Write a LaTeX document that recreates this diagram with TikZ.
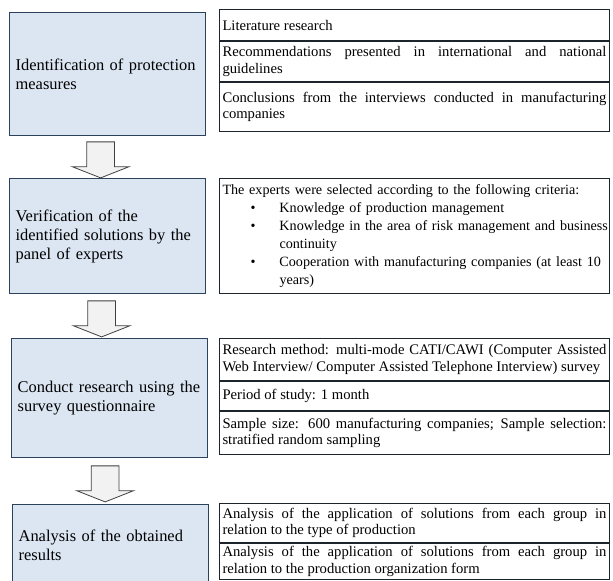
\documentclass[tikz,border=0pt]{standalone}
\usepackage{fontspec}
\setmainfont{Liberation Serif}
\usepackage{tikz}
\usetikzlibrary{shapes.arrows, positioning, calc}
\definecolor{cfill}{RGB}{220, 230, 242}
\definecolor{cframe}{RGB}{44, 66, 90}
\definecolor{crule}{RGB}{30, 36, 44}
\definecolor{carrowfill}{RGB}{242, 242, 242}
\definecolor{carrowline}{RGB}{64, 64, 64}

\newcommand{\critem}[1]{\hspace*{28bp}\makebox[29bp][l]{\textbullet}\mbox{#1}}
\newcommand{\crcont}[1]{\hspace*{57bp}\mbox{#1}}

\begin{document}
\begin{tikzpicture}[
  x=1bp, y=-1bp,
  stepbox/.style={rectangle, draw=cframe, line width=1.3pt, fill=cfill, minimum width=196bp, text width=184bp, inner xsep=6bp, align=left, anchor=north west, font=\fontsize{16.5}{19}\selectfont},
  sect/.style={rectangle, draw=crule, line width=1pt, fill=white, text width=384bp, inner xsep=3bp, inner ysep=2bp, align=justify, font=\fontsize{14.7}{16.5}\selectfont},
  downarrow/.style={single arrow, draw=carrowline, fill=carrowfill, line width=0.8pt, rotate=-90, minimum height=36bp, inner xsep=0pt, inner ysep=13.5bp, single arrow head extend=14.5bp, single arrow tip angle=137},
]
\path[use as bounding box, clip] (0,0) rectangle (613,581);

% ---- Left column: steps ----
\node[stepbox, minimum height=123bp] (ident) at (9,12) {Identification of protection\\measures};
\node[stepbox, minimum height=115bp] (verif) at (9,178) {Verification of the\\identified solutions by the\\panel of experts};
\node[stepbox, minimum height=119bp] (survey) at (11,338) {Conduct research using the\\survey questionnaire};
\node[stepbox, minimum height=81bp] (analysis) at (12,504) {Analysis of the obtained\\results};

% ---- Arrows between steps ----
\node[downarrow] (arr1) at ($(ident.south)!0.5!(verif.north)+(-7,0)$) {};
\node[downarrow] (arr2) at ($(verif.south)!0.5!(survey.north)+(-7,0)$) {};
\node[downarrow] (arr3) at ($(survey.south)!0.5!(analysis.north)+(-5,0)$) {};

% ---- Right column: identification ----
\node[sect, minimum height=31bp, anchor=north west] (lit) at (219,9) {Literature research};
\node[sect, minimum height=40bp, below=0pt of lit] (guide)
  {Recommendations presented in international and national\linebreak guidelines};
\node[sect, minimum height=49bp, below=0pt of guide] (interv)
  {Conclusions from the interviews conducted in manufacturing\linebreak companies};

% ---- Right column: experts ----
\node[sect, minimum height=115bp, anchor=north west, align=left, font=\fontsize{14.2}{18}\selectfont] (crit) at (219,178)
  {The experts were selected according to the following criteria:\\%
   \critem{Knowledge of production management}\\%
   \critem{Knowledge in the area of risk management and business}\\%
   \crcont{continuity}\\%
   \critem{Cooperation with manufacturing companies (at least 10}\\%
   \crcont{years)}};

% ---- Right column: survey ----
\node[sect, minimum height=42bp, anchor=north west] (method) at (219,338)
  {Research method: multi-mode CATI/CAWI (Computer Assisted\linebreak Web Interview/ Computer Assisted Telephone Interview) survey};
\node[sect, minimum height=29bp, below=0pt of method] (period) {Period of study: 1 month};
\node[sect, minimum height=43bp, below=0pt of period] (sample)
  {Sample size: 600 manufacturing companies; Sample selection:\linebreak stratified random sampling};

% ---- Right column: analysis ----
\node[sect, minimum height=39bp, anchor=north west] (bytype) at (219,503)
  {Analysis of the application of solutions from each group in\linebreak relation to the type of production};
\node[sect, minimum height=36bp, below=0pt of bytype] (byform)
  {Analysis of the application of solutions from each group in\linebreak relation to the production organization form};

\end{tikzpicture}
\end{document}
